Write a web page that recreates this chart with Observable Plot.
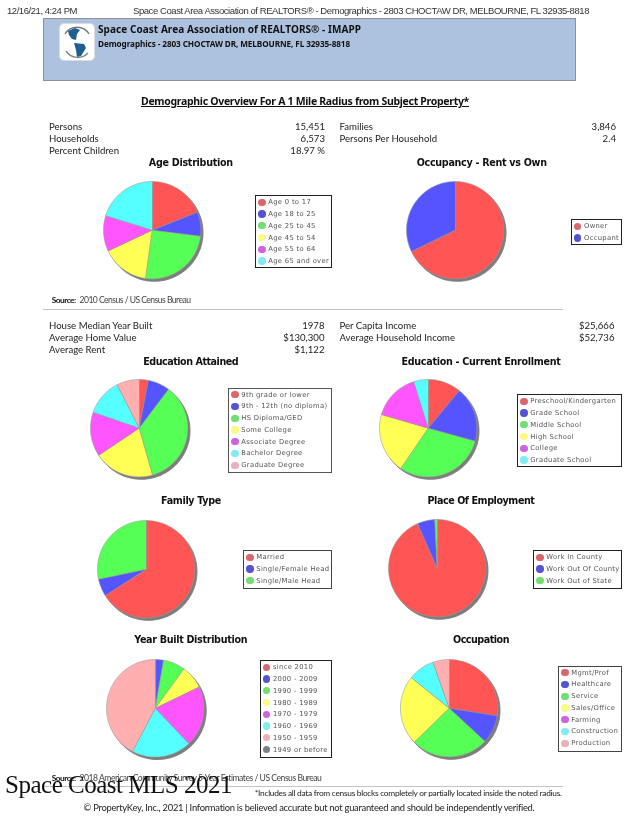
<!DOCTYPE html>
<html><head><meta charset="utf-8">
<style>
html,body{margin:0;padding:0;background:#fff}
#page{position:relative;width:626px;height:820px;overflow:hidden;background:#fff;filter:blur(.25px)}
.t{position:absolute;white-space:nowrap;line-height:1}
.box{position:absolute;box-sizing:border-box}
.pie{position:absolute}
.pie svg{display:block;background:transparent}
</style>
<script src="https://cdn.jsdelivr.net/npm/d3@7"></script>
<script src="https://cdn.jsdelivr.net/npm/@observablehq/plot@0.6"></script>
</head><body><div id="page"></div>
<script>
// ---- chart data (percent shares)
const ageCats=["Age 0 to 17","Age 18 to 25","Age 25 to 45","Age 45 to 54","Age 55 to 64","Age 65 and over"];
const ageVals=[18.97,8,25.2,15.8,11.8,20.2];
const occCats=["Owner","Occupant"];
const occVals=[67.8,32.2];
const eduCats=["9th grade or lower","9th - 12th (no diploma)","HS Diploma/GED","Some College","Associate Degree","Bachelor Degree","Graduate Degree"];
const eduVals=[3,7.3,35.3,20,14.7,12.2,7.5];
const enrCats=["Preschool/Kindergarten","Grade School","Middle School","High School","College","Graduate School"];
const enrVals=[11,18.3,30.2,20,15.7,4.8];
const famCats=["Married","Single/Female Head","Single/Male Head"];
const famVals=[65.9,5.8,28.3];
const empCats=["Work In County","Work Out Of County","Work Out of State"];
const empVals=[93.4,5.8,0.8];
const yrCats=["since 2010","2000 - 2009","1990 - 1999","1980 - 1989","1970 - 1979","1960 - 1969","1950 - 1959","1949 or before"];
const yrVals=[0,2.7,7.3,7.8,20.1,19.8,42.3,0];
const jobCats=["Mgmt/Prof","Healthcare","Service","Sales/Office","Farming","Construction","Production"];
const jobVals=[27.5,9.4,25.8,23.1,0,8.8,5.4];
const pieColors=["#ff5555","#5555ff","#55ff55","#ffff55","#ff55ff","#55ffff","#ffafaf","#808080"];
const keyColors=["#d9666c","#5454d2","#6fe070","#fbfb84","#cf62de","#80ecf2","#ecb0b8","#808088"];
const statsTop=[["Persons","15,451","Families","3,846"],["Households","6,573","Persons Per Household","2.4"],["Percent Children","18.97 %","",""]];
const statsMid=[["House Median Year Built","1978","Per Capita Income","$25,666"],["Average Home Value","$130,300","Average Household Income","$52,736"],["Average Rent","$1,122","",""]];

// ---- layout
const page=document.getElementById("page");
const BODY='Lato,sans-serif', HEAD='"Noto Sans",sans-serif', VERD='"DejaVu Sans",sans-serif', ARIAL='"Liberation Sans",sans-serif';
function put(text,o){
  const d=document.createElement("div");d.className="t";d.textContent=text;
  Object.assign(d.style,{left:o.x+"px",top:o.y+"px",font:`${o.weight||400} ${o.size}px ${o.font||BODY}`,color:o.color||"#222",
    transform:`translate(${o.anchor==="end"?"-100%":o.anchor==="middle"?"-50%":"0"},-50%)`});
  if(o.underline)d.style.textDecoration="underline";
  page.appendChild(d);
  if(o.w){d.style.letterSpacing=((o.w-d.getBoundingClientRect().width)/(text.length))+"px";}
  return d;
}
function rect(x,y,w,h,css){const d=document.createElement("div");d.className="box";
  Object.assign(d.style,{left:x+"px",top:y+"px",width:w+"px",height:h+"px"},css);page.appendChild(d);return d;}

function slices(cats,vals){
  const total=d3.sum(vals),rows=[];let a=0;
  cats.forEach((k,i)=>{
    const span=vals[i]/total*2*Math.PI;
    if(vals[i]>0){
      rows.push({k,x:0,y:0});
      const n=Math.max(2,Math.ceil(span/0.02));
      for(let j=0;j<=n;j++){const t=a+span*j/n;rows.push({k,x:Math.sin(t),y:Math.cos(t)});}
    }
    a+=span;
  });
  return rows;
}
function pie(cats,vals,cx,cy,r){
  const pad=6,s=r+pad,lim=s/r,rows=slices(cats,vals);
  const p=Plot.plot({width:2*s,height:2*s,margin:0,
    x:{domain:[-lim,lim],axis:null},y:{domain:[-lim,lim],axis:null},
    color:{domain:cats,range:pieColors},
    marks:[
      Plot.line(rows,{x:"x",y:"y",z:"k",fill:"#7d7d7d",stroke:"#7d7d7d",strokeWidth:1,dx:2.1,dy:2.4,curve:"linear-closed"}),
      Plot.line(rows,{x:"x",y:"y",fill:"k",stroke:"#9a9a9a",strokeWidth:.6,strokeLinejoin:"round",curve:"linear-closed"})
    ]});
  const w=document.createElement("div");w.className="pie";
  w.style.left=(cx-s)+"px";w.style.top=(cy-s)+"px";w.appendChild(p);page.appendChild(w);
}
function legend(cats,x0,y0,x1,y1,border){
  rect(x0,y0,x1-x0,y1-y0,{border:`1px solid ${border||"#222"}`,background:"#fff"});
  cats.forEach((c,i)=>{
    const yc=y0+7+i*11.75;
    rect(x0+3,yc-3.7,7.4,7.4,{borderRadius:"50%",background:keyColors[i]});
    put(c,{x:x0+13,y:yc,size:6.8,font:VERD,color:"#555"}).style.letterSpacing=".3px";
  });
}
function title(text,x,y,w){put(text,{x,y,anchor:"middle",size:9.6,weight:700,font:VERD,color:"#111",w});}

// ---- top header
put("12/16/21, 4:24 PM",{x:7,y:10,size:9.5,font:ARIAL,color:"#333",w:70});
put("Space Coast Area Association of REALTORS® - Demographics - 2803 CHOCTAW DR, MELBOURNE, FL 32935-8818",{x:133,y:10,size:9.5,font:ARIAL,color:"#333",w:456});
rect(42.5,18,533.5,63,{background:"#adc2df",border:"1px solid #8f8f95"});
rect(59,22.5,36,38,{background:"#fff",borderRadius:"5px",border:"1px solid #ddd"});
const globe=document.createElement("div");globe.className="pie";globe.style.left="59px";globe.style.top="22.5px";
globe.innerHTML='<svg width="36" height="38" viewBox="0 0 36 38"><path d="M6 11A14 14 0 0 1 30 11" fill="none" stroke="#777" stroke-width="1.4"/><path d="M7 28A14 14 0 0 0 29 30" fill="none" stroke="#888" stroke-width="1.4"/><path d="M9 8L16 5L21 7L18 11L17 17L13 16L10 12Z" fill="#1f5d93"/><path d="M15 20L25 21L27 25L22 33L18 34L17 27Z" fill="#1f5d93"/></svg>';
page.appendChild(globe);
put("Space Coast Area Association of REALTORS® - IMAPP",{x:98,y:29,size:10,weight:700,font:HEAD,color:"#111",w:263});
put("Demographics - 2803 CHOCTAW DR, MELBOURNE, FL 32935-8818",{x:98,y:42.5,size:8.2,weight:700,font:HEAD,color:"#111",w:252});
put("Demographic Overview For A 1 Mile Radius from Subject Property*",{x:141,y:101,size:10.5,weight:700,font:HEAD,color:"#111",underline:true,w:328});

function stats(rows,y0,r1,r2){
  rows.forEach((r,i)=>{
    const y=y0+i*12;
    put(r[0],{x:49,y,size:9.6});
    put(r[1],{x:r1,y,size:9.6,anchor:"end"});
    if(r[2]){put(r[2],{x:339.5,y,size:9.6});put(r[3],{x:r2,y,size:9.6,anchor:"end"});}
  });
}
stats(statsTop,126,325,616);
stats(statsMid,325,324.5,614.5);

// ---- pies, titles and keys
title("Age Distribution",190.8,162,84);
pie(ageCats,ageVals,151.6,229.4,48.7);
legend(ageCats,255.3,195.3,331.7,268.3);
title("Occupancy - Rent vs Own",481.7,162,130);
pie(occCats,occVals,455,229.4,48.7);
legend(occCats,571,219.3,621.7,244.7);
put("Source:",{x:51.7,y:300,size:8.4,color:"#111",weight:700,w:24});
put("2010 Census / US Census Bureau",{x:79.5,y:300,size:8.6,color:"#444",w:111});
rect(43,308.6,520,1,{background:"#c4c4c4"});

title("Education Attained",190.7,361,95);
pie(eduCats,eduVals,138.4,428,48.7);
legend(eduCats,228.3,387.7,331.7,473.3,"#555");
title("Education - Current Enrollment",481,361,159);
pie(enrCats,enrVals,428,428,48.7);
legend(enrCats,517.3,394.3,621.7,466.7);

title("Family Type",191,500,60);
pie(famCats,famVals,146,568.3,48.7);
legend(famCats,243.3,550.3,331.7,589.3,"#444");
title("Place Of Employment",481,500,107);
pie(empCats,empVals,436.2,567.5,48.7);
legend(empCats,533.3,550.3,621.7,589.3);

title("Year Built Distribution",190.7,639,113);
pie(yrCats,yrVals,155,707.3,48.8);
legend(yrCats,260,660.3,332,757.7);
title("Occupation",481,639,56);
pie(jobCats,jobVals,448.3,707.3,48.7);
legend(jobCats,558.3,665.7,621.7,751.7,"#444");

// ---- footer
put("Source:",{x:51.7,y:778,size:8.4,color:"#111",weight:700,w:24});
put("2018 American Community Survey 5-Year Estimates / US Census Bureau",{x:79.5,y:778,size:8.6,color:"#444",w:242});
rect(43,785.6,520,1,{background:"#c4c4c4"});
put("*Includes all data from census blocks completely or partially located inside the noted radius.",{x:561.7,y:793,size:8.4,anchor:"end",color:"#222",w:307});
put("© PropertyKey, Inc., 2021 | Information is believed accurate but not guaranteed and should be independently verified.",{x:83.5,y:807,size:9.4,color:"#222",w:451});
put("Space Coast MLS 2021",{x:5,y:785,size:25,font:'"Liberation Serif",serif',color:"#111",w:227});
</script>
</body></html>
